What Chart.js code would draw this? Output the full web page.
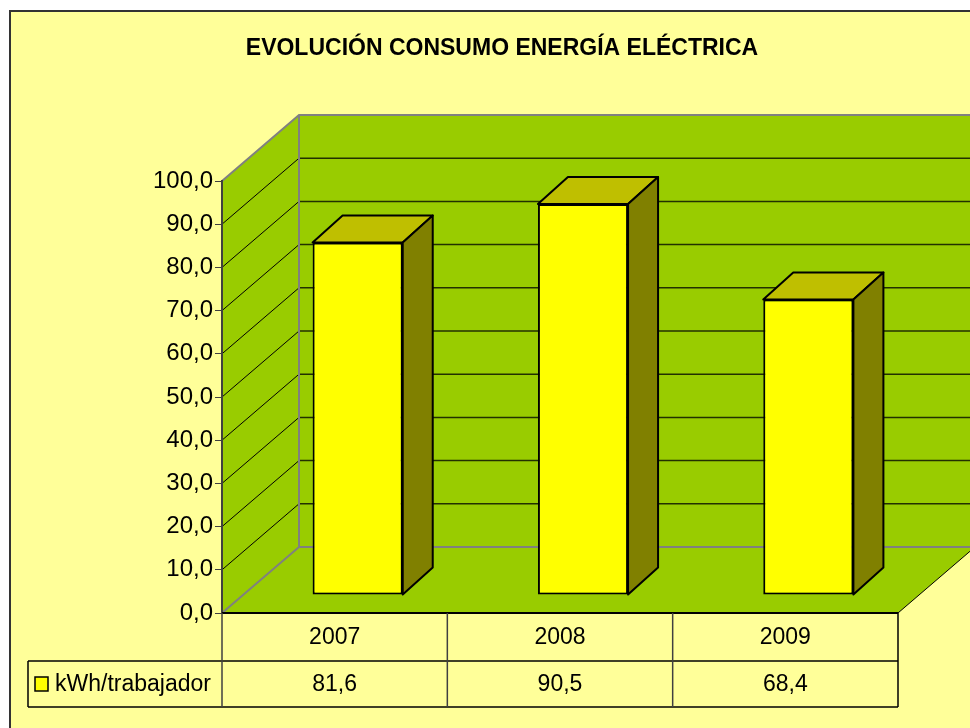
<!DOCTYPE html>
<html><head><meta charset="utf-8">
<script src="https://cdn.jsdelivr.net/npm/chart.js@4.4.1/dist/chart.umd.min.js"></script>
<style>html,body{margin:0;padding:0;background:#fff;}canvas{display:block;}</style>
</head><body>
<canvas id="c" width="970" height="728"></canvas>
<script>
// ---- data ----
const chartTitle = 'EVOLUCIÓN CONSUMO ENERGÍA ELÉCTRICA';
const categories = ['2007', '2008', '2009'];
const seriesName = 'kWh/trabajador';
const seriesValues = [81.6, 90.5, 68.4];
const yMin = 0, yMax = 100, yStep = 10;

// ---- style ----
const FONT = "'Liberation Sans', Arial, sans-serif";
const fmt = v => Number(v).toFixed(1).replace('.', ',');
const C = {page:'#FFFF99', wall:'#99CC00', front:'#FFFF00', top:'#BFBF00', side:'#808000', edge:'#808080', grid:'#223000'};
const WALL = {dx:77, dy:-66};
const BAR = {sx:23, sy:-18, dx:30, dy:-27};
const TABLE = {row1:48, row2:46, legendLeft:28};

function poly(ctx, pts){ ctx.beginPath(); pts.forEach((p,i)=> i ? ctx.lineTo(p[0],p[1]) : ctx.moveTo(p[0],p[1])); ctx.closePath(); }
function line(ctx,x1,y1,x2,y2){ ctx.beginPath(); ctx.moveTo(x1,y1); ctx.lineTo(x2,y2); ctx.stroke(); }

const plot3d = {
  id: 'plot3d',
  beforeDraw(chart){
    const {ctx, chartArea:a} = chart; const y = chart.scales.y;
    const W = chart.width, H = chart.height;
    ctx.save();
    ctx.fillStyle = '#fff'; ctx.fillRect(0,0,W,H);
    ctx.fillStyle = C.page; ctx.fillRect(10,11,W,H);
    ctx.strokeStyle = '#333'; ctx.lineWidth = 2;
    ctx.beginPath(); ctx.moveTo(10,H); ctx.lineTo(10,11); ctx.lineTo(W,11); ctx.stroke();
    const L=a.left, R=a.right, T=a.top, B=a.bottom, dx=WALL.dx, dy=WALL.dy;
    ctx.fillStyle = C.wall;
    ctx.fillRect(L+dx, T+dy, R-L, B-T);
    poly(ctx, [[L,T],[L+dx,T+dy],[L+dx,B+dy],[L,B]]); ctx.fill();
    poly(ctx, [[L,B],[L+dx,B+dy],[R+dx,B+dy],[R,B]]); ctx.fill();
    y.ticks.forEach(t => {
      if (t.value <= yMin || t.value >= yMax) return;
      const p = y.getPixelForValue(t.value);
      ctx.strokeStyle = C.grid; ctx.lineWidth = 1.5; line(ctx, L+dx, p+dy, R+dx, p+dy);
      ctx.strokeStyle = '#000'; ctx.lineWidth = 1; line(ctx, L, p, L+dx, p+dy);
    });
    ctx.strokeStyle = C.edge; ctx.lineWidth = 2;
    ctx.beginPath(); ctx.moveTo(L,T); ctx.lineTo(L+dx,T+dy); ctx.lineTo(R+dx,T+dy); ctx.stroke();
    ctx.beginPath(); ctx.moveTo(L+dx,T+dy); ctx.lineTo(L+dx,B+dy); ctx.lineTo(R+dx,B+dy); ctx.stroke();
    line(ctx, L, B, L+dx, B+dy);
    ctx.strokeStyle = '#000'; ctx.lineWidth = 1; line(ctx, R, B, R+dx, B+dy);
    ctx.restore();
  },
  beforeDatasetsDraw(chart){
    chart.ctx.save();
    chart.ctx.translate(BAR.sx, BAR.sy);
  },
  afterDatasetsDraw(chart){
    const ctx = chart.ctx;
    chart.getDatasetMeta(0).data.forEach(el => {
      const l = el.x - el.width/2, r = el.x + el.width/2, t = el.y, b = el.base;
      ctx.lineWidth = 2; ctx.strokeStyle = '#000'; ctx.lineJoin = 'round';
      poly(ctx, [[l,t],[l+BAR.dx,t+BAR.dy],[r+BAR.dx,t+BAR.dy],[r,t]]);
      ctx.fillStyle = C.top; ctx.fill(); ctx.stroke();
      poly(ctx, [[r,t],[r+BAR.dx,t+BAR.dy],[r+BAR.dx,b+BAR.dy],[r,b]]);
      ctx.fillStyle = C.side; ctx.fill(); ctx.stroke();
    });
    ctx.restore();
  },
  afterDraw(chart){
    const {ctx, chartArea:a} = chart; const xs = chart.scales.x;
    const L=a.left, R=a.right, B=a.bottom;
    const labels = chart.data.labels, ds = chart.data.datasets[0];
    const n = labels.length, cw = (R-L)/n;
    const y1 = B + TABLE.row1, y2 = y1 + TABLE.row2, lx = TABLE.legendLeft;
    ctx.save();
    ctx.strokeStyle = '#000'; ctx.lineWidth = 2; line(ctx, L, B, R, B);
    ctx.lineWidth = 1.5;
    line(ctx, lx, y1, R, y1); line(ctx, lx, y2, R, y2); line(ctx, lx, y1, lx, y2);
    for (let i = 0; i <= n; i++) {
      const xx = L + i*cw;
      ctx.strokeStyle = i === n ? '#000' : '#404040';
      line(ctx, xx, B, xx, y2);
    }
    ctx.fillStyle = '#000'; ctx.font = `23px ${FONT}`;
    ctx.textAlign = 'center'; ctx.textBaseline = 'middle';
    labels.forEach((lab, i) => {
      const cx = xs.getPixelForValue(i);
      ctx.fillText(lab, cx, (B+y1)/2 + 1);
      ctx.fillText(fmt(ds.data[i]), cx, (y1+y2)/2 + 1);
    });
    // legend key + series name
    const ky = (y1+y2)/2;
    ctx.fillStyle = ds.backgroundColor; ctx.fillRect(lx+7, ky-7, 13, 14);
    ctx.strokeStyle = '#000'; ctx.lineWidth = 1.5; ctx.strokeRect(lx+7, ky-7, 13, 14);
    ctx.fillStyle = '#000'; ctx.textAlign = 'left';
    ctx.fillText(ds.label, lx+27, ky + 1);
    ctx.restore();
  }
};

new Chart(document.getElementById('c'), {
  type: 'bar',
  data: {
    labels: categories,
    datasets: [{
      label: seriesName, data: seriesValues,
      backgroundColor: C.front, borderColor: '#000', borderWidth: 2, borderSkipped: false,
      barPercentage: 0.4, categoryPercentage: 1, clip: false
    }]
  },
  options: {
    responsive: false, animation: false, devicePixelRatio: 1,
    layout: {padding: {left: 34, right: 0, top: 0, bottom: 115}},
    plugins: {
      legend: {display: false}, tooltip: {enabled: false},
      title: {display: true, text: chartTitle, color: '#000',
              font: {family: FONT, size: 23, weight: 'bold'}, padding: {top: 35, bottom: 118.4}}
    },
    scales: {
      x: {display: false},
      y: {
        type: 'linear', position: 'left', min: yMin, max: yMax,
        ticks: {stepSize: yStep, callback: v => fmt(v), color: '#000', font: {family: FONT, size: 24}, padding: 2},
        grid: {drawOnChartArea: false, drawTicks: true, tickLength: 7, color: '#404040'},
        border: {display: true, color: '#404040', width: 2},
        afterFit(s){ s.width = 188; }
      },
      yR: {
        type: 'linear', position: 'right', display: true,
        ticks: {display: false}, grid: {display: false}, border: {display: false},
        afterFit(s){ s.width = 72; }
      }
    }
  },
  plugins: [plot3d]
});
</script>
</body></html>
